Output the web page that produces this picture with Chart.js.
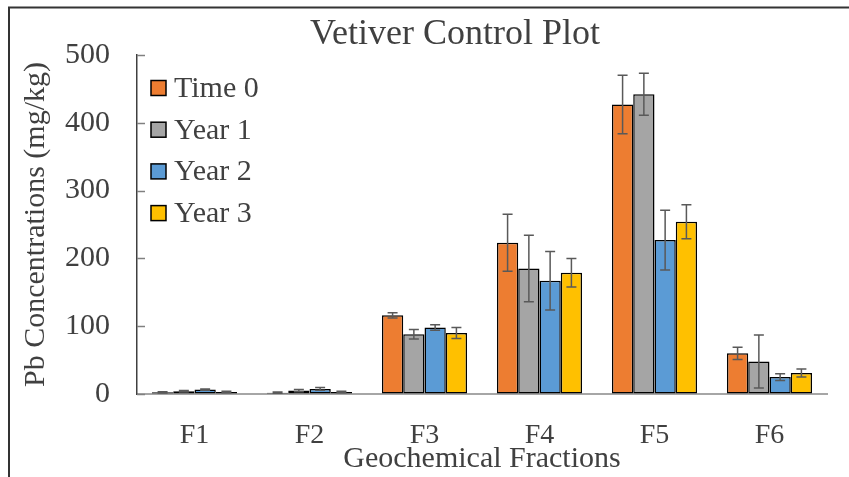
<!DOCTYPE html>
<html>
<head>
<meta charset="utf-8">
<script src="https://cdn.jsdelivr.net/npm/chart.js@4"></script>
<style>
  body { margin: 0; background: #fff; }
</style>
</head>
<body>
<canvas id="chartPb" width="849" height="477"></canvas>
<script>
const categories = ['F1', 'F2', 'F3', 'F4', 'F5', 'F6'];
const seriesNames = ['Time 0', 'Year 1', 'Year 2', 'Year 3'];
const time0 = [2.5, 2, 116, 223, 427, 60];
const year1 = [4, 5, 88, 185, 442, 48];
const year2 = [6.5, 7.5, 98, 167, 227, 25];
const year3 = [3, 3, 90, 179, 254, 31];
const err0 = [1, 1, 4, 42, 43, 9];
const err1 = [1, 1.5, 7, 49, 31, 39];
const err2 = [1, 2, 4, 43, 44, 5];
const err3 = [1, 1, 8, 21, 25, 6];
const yTicks = [0, 100, 200, 300, 400, 500];

const colorSet = ['#ed7d31', '#a5a5a5', '#5b9bd5', '#ffc000'];
const textColor = '#404040';
const serif = "'Liberation Serif', 'Times New Roman', serif";

const values = [time0, year1, year2, year3];
const errors = [err0, err1, err2, err3];

const chartData = {
  labels: categories,
  datasets: seriesNames.map((name, i) => ({
    label: name,
    data: values[i],
    errors: errors[i],
    backgroundColor: colorSet[i],
    borderColor: '#000',
    borderWidth: 1.5,
    borderSkipped: false,
  })),
};

// frame, title, inner tick marks, error bars and legend
const extras = {
  id: 'extras',
  afterDraw(chart) {
    const ctx = chart.ctx;
    const area = chart.chartArea;
    const y = chart.scales.y;
    ctx.save();

    // frame
    ctx.strokeStyle = '#333';
    ctx.lineWidth = 2;
    ctx.beginPath();
    ctx.moveTo(849, 7.5);
    ctx.lineTo(9, 7.5);
    ctx.lineTo(9, 477);
    ctx.stroke();

    // title
    ctx.fillStyle = textColor;
    ctx.font = '36px ' + serif;
    ctx.textAlign = 'center';
    ctx.textBaseline = 'middle';
    ctx.fillText('Vetiver Control Plot', 455, 35);

    // tick marks inside the y axis
    ctx.strokeStyle = '#808080';
    ctx.lineWidth = 1.5;
    yTicks.forEach((t) => {
      const py = Math.round(y.getPixelForValue(t)) + 0.5;
      ctx.beginPath();
      ctx.moveTo(area.left, py);
      ctx.lineTo(area.left + 8, py);
      ctx.stroke();
    });

    // error bars
    ctx.strokeStyle = '#595959';
    ctx.lineWidth = 1.5;
    chart.data.datasets.forEach((ds, i) => {
      const meta = chart.getDatasetMeta(i);
      meta.data.forEach((bar, j) => {
        const v = ds.data[j];
        const e = ds.errors[j];
        const top = y.getPixelForValue(v + e);
        const bot = y.getPixelForValue(v - e);
        ctx.beginPath();
        ctx.moveTo(bar.x, top);
        ctx.lineTo(bar.x, bot);
        ctx.moveTo(bar.x - 5, top);
        ctx.lineTo(bar.x + 5, top);
        ctx.moveTo(bar.x - 5, bot);
        ctx.lineTo(bar.x + 5, bot);
        ctx.stroke();
      });
    });

    // legend
    ctx.font = '30px ' + serif;
    ctx.textAlign = 'left';
    chart.data.datasets.forEach((ds, i) => {
      const cy = 88 + i * 41.7;
      ctx.fillStyle = ds.backgroundColor;
      ctx.fillRect(151, cy - 7.5, 15, 15);
      ctx.strokeStyle = '#000';
      ctx.lineWidth = 1.5;
      ctx.strokeRect(151, cy - 7.5, 15, 15);
      ctx.fillStyle = textColor;
      ctx.fillText(ds.label, 174, cy + 1);
    });

    ctx.restore();
  },
};

const chartConfig = {
  type: 'bar',
  data: chartData,
  plugins: [extras],
  options: {
    responsive: false,
    animation: false,
    layout: {
      padding: { top: 55, left: 12, right: 22, bottom: 0 },
    },
    datasets: {
      bar: {
        categoryPercentage: 0.74,
        barPercentage: 1.0,
      },
    },
    plugins: {
      legend: { display: false },
      title: { display: false },
      tooltip: { enabled: false },
    },
    scales: {
      x: {
        grid: { display: false },
        border: { display: true, color: '#a6a6a6', width: 2 },
        ticks: {
          color: textColor,
          font: { family: serif, size: 28 },
          padding: 17,
        },
        title: {
          display: true,
          text: 'Geochemical Fractions',
          color: textColor,
          font: { family: serif, size: 30 },
          padding: { top: 0, bottom: 0 },
        },
        afterFit(scale) {
          scale.height = 83;
        },
      },
      y: {
        min: 0,
        max: 500,
        ticks: {
          stepSize: 100,
          color: textColor,
          font: { family: serif, size: 30 },
          padding: 27,
        },
        grid: { display: true, drawOnChartArea: false, drawTicks: false },
        border: { display: true, color: '#404040', width: 1.5 },
        title: {
          display: true,
          text: 'Pb Concentrations (mg/kg)',
          color: textColor,
          font: { family: serif, size: 30 },
          padding: { top: 6, bottom: 0 },
        },
        afterFit(scale) {
          scale.width = 125;
        },
      },
    },
  },
};

const chartPb = new Chart(document.getElementById('chartPb'), chartConfig);
</script>
</body>
</html>
